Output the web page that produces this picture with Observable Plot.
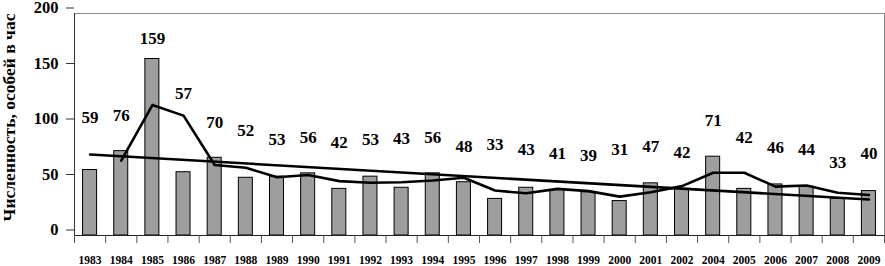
<!DOCTYPE html>
<html>
<head>
<meta charset="utf-8">
<script src="https://cdn.jsdelivr.net/npm/d3@7"></script>
<script src="https://cdn.jsdelivr.net/npm/@observablehq/plot@0.6"></script>
<style>
  body { margin: 0; background: #fff; }
  #chart svg { display: block; }
</style>
</head>
<body>
<div id="chart"></div>
<script>
const years = [1983,1984,1985,1986,1987,1988,1989,1990,1991,1992,1993,1994,1995,1996,1997,1998,1999,2000,2001,2002,2004,2005,2006,2007,2008,2009];
const counts = [59,76,159,57,70,52,53,56,42,53,43,56,48,33,43,41,39,31,47,42,71,42,46,44,33,40];
// moving average line (starts at 1984)
const movingAvg = [null,67.5,117.5,108,63.5,61,52.5,54.5,49,47.5,48,49.5,52,40.5,38,42,40,35,39,44.5,56.5,56.5,44,45,38.5,36.5];
// linear trend: value at first and at last year
const trendEnds = [73, 32.5];
// level (in data units) at which each value label sits
const labelLevel = [106,108,177,128,102,95,86,88,84,86,87,88,80,82,77,74,72,77,80,75,104,88,79,77,66,74];
const yTicks = [0,50,100,150,200];
const yTitle = "Численность, особей в час";

const data = years.map((yr, i) => ({i, year: yr, v: counts[i], ma: movingAvg[i], lab: labelLevel[i]}));
const maData = data.filter(d => d.ma != null);
const n = years.length;
const trend = [{i: 0, v: trendEnds[0]}, {i: n - 1, v: trendEnds[1]}];
const bounds = d3.range(n + 1).map(k => k - 0.5);
const serif = "Liberation Serif";

const chart = Plot.plot({
  width: 885,
  height: 266,
  marginLeft: 74,
  marginRight: 1,
  marginTop: 13,
  marginBottom: 31,
  style: {fontFamily: "Liberation Serif, serif", background: "#fff", overflow: "visible"},
  x: {type: "linear", domain: [-0.5, n - 0.5], axis: null},
  y: {domain: [0, 200], axis: null},
  marks: [
    Plot.ruleY([200], {stroke: "#8a8a8a", strokeWidth: 1}),
    Plot.ruleX([n - 0.5], {stroke: "#8a8a8a", strokeWidth: 1}),
    Plot.rectY(data, {x1: d => d.i - 0.225, x2: d => d.i + 0.225, y: "v", fill: "#9e9e9e", stroke: "#000", strokeWidth: 1}),
    Plot.line(trend, {x: "i", y: "v", stroke: "#000", strokeWidth: 2.6}),
    Plot.line(maData, {x: "i", y: "ma", stroke: "#000", strokeWidth: 2.6}),
    Plot.ruleX([-0.5], {stroke: "#333", strokeWidth: 1}),
    Plot.ruleY([0], {stroke: "#222", strokeWidth: 1}),
    Plot.axisY({ticks: yTicks, tickSize: 8, tickPadding: 8, fontSize: 16.5, fontWeight: "bold", fontFamily: serif, dy: -5.5, label: null, stroke: "#333", fill: "#000"}),
    Plot.axisX({ticks: bounds, tickSize: 8, tickFormat: () => "", label: null, stroke: "#555"}),
    Plot.axisX({ticks: d3.range(n), tickSize: 0, tickPadding: 20, tickFormat: k => String(years[k]), fontSize: 11.5, fontWeight: "bold", fontFamily: serif, label: null, fill: "#000"}),
    Plot.text(data, {x: "i", y: "lab", text: d => String(d.v), fontSize: 17, fontWeight: "bold", fontFamily: serif, fill: "#000"}),
    Plot.text([yTitle], {frameAnchor: "left", textAnchor: "middle", dx: -65, dy: -7, rotate: -90, fontSize: 17.5, fontWeight: "bold", fontFamily: serif, fill: "#000"})
  ]
});
document.getElementById("chart").appendChild(chart);
</script>
</body>
</html>
